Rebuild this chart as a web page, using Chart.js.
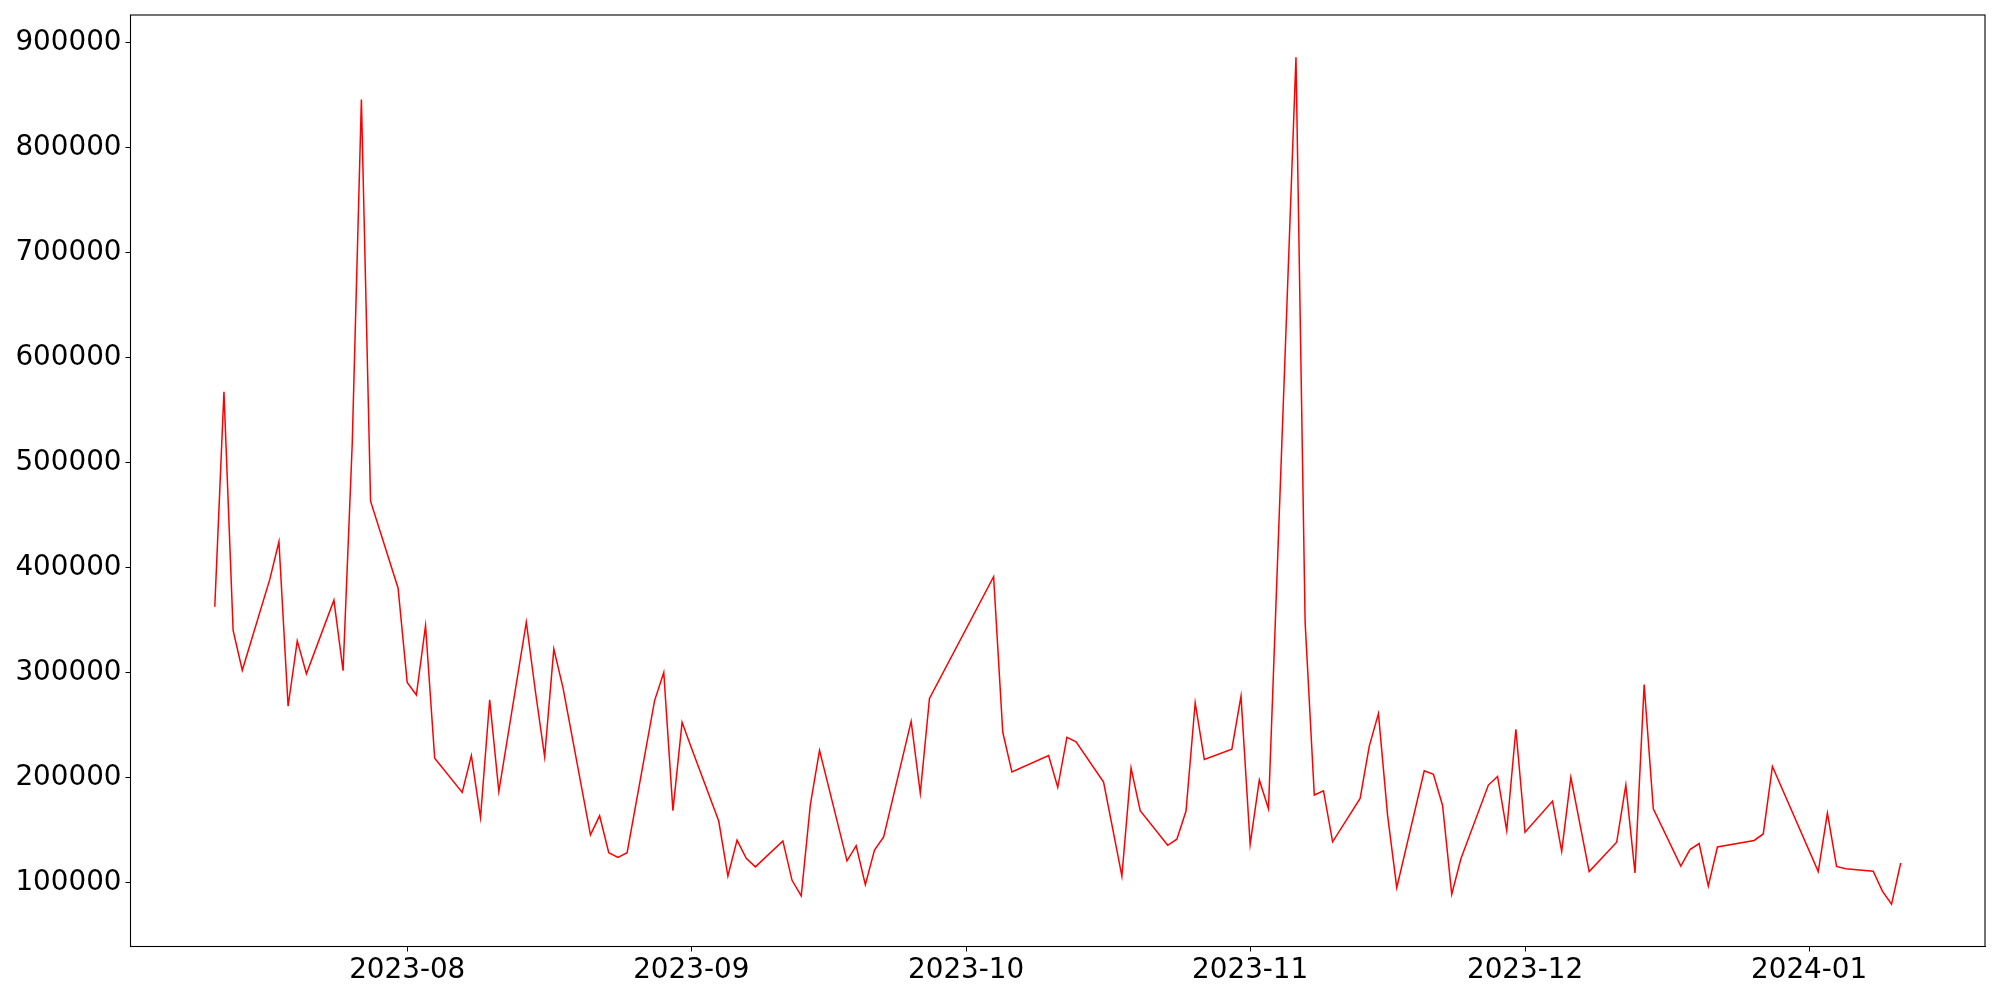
<!DOCTYPE html>
<html>
<head>
<meta charset="utf-8">
<script src="https://cdn.jsdelivr.net/npm/chart.js@4/dist/chart.umd.min.js"></script>
<style>
  html, body { margin: 0; padding: 0; background: #fff; }
  #wrap { width: 2000px; height: 1000px; }
</style>
</head>
<body>
<div id="wrap"><canvas id="chart" width="2000" height="1000"></canvas></div>
<script>
// Daily series, weekdays only (gaps = weekends / closed days)
const dates = [
    "2023-07-11", "2023-07-12", "2023-07-13", "2023-07-14",
    "2023-07-17", "2023-07-18", "2023-07-19", "2023-07-20", "2023-07-21",
    "2023-07-24", "2023-07-25", "2023-07-26", "2023-07-27", "2023-07-28",
    "2023-07-31", "2023-08-01", "2023-08-02", "2023-08-03", "2023-08-04",
    "2023-08-07", "2023-08-08", "2023-08-09", "2023-08-10", "2023-08-11",
    "2023-08-14", "2023-08-15", "2023-08-16", "2023-08-17", "2023-08-18",
    "2023-08-21", "2023-08-22", "2023-08-23", "2023-08-24", "2023-08-25",
    "2023-08-28", "2023-08-29", "2023-08-30", "2023-08-31", "2023-09-01",
    "2023-09-04", "2023-09-05", "2023-09-06", "2023-09-07", "2023-09-08",
    "2023-09-11", "2023-09-12", "2023-09-13", "2023-09-14", "2023-09-15",
    "2023-09-18", "2023-09-19", "2023-09-20", "2023-09-21", "2023-09-22",
    "2023-09-25", "2023-09-26", "2023-09-27",
    "2023-10-04", "2023-10-05", "2023-10-06",
    "2023-10-10", "2023-10-11", "2023-10-12", "2023-10-13",
    "2023-10-16", "2023-10-17", "2023-10-18", "2023-10-19", "2023-10-20",
    "2023-10-23", "2023-10-24", "2023-10-25", "2023-10-26", "2023-10-27",
    "2023-10-30", "2023-10-31", "2023-11-01", "2023-11-02", "2023-11-03",
    "2023-11-06", "2023-11-07", "2023-11-08", "2023-11-09", "2023-11-10",
    "2023-11-13", "2023-11-14", "2023-11-15", "2023-11-16", "2023-11-17",
    "2023-11-20", "2023-11-21", "2023-11-22", "2023-11-23", "2023-11-24",
    "2023-11-27", "2023-11-28", "2023-11-29", "2023-11-30", "2023-12-01",
    "2023-12-04", "2023-12-05", "2023-12-06", "2023-12-07", "2023-12-08",
    "2023-12-11", "2023-12-12", "2023-12-13", "2023-12-14", "2023-12-15",
    "2023-12-18", "2023-12-19", "2023-12-20", "2023-12-21", "2023-12-22",
    "2023-12-26", "2023-12-27", "2023-12-28",
    "2024-01-02", "2024-01-03", "2024-01-04", "2024-01-05",
    "2024-01-08", "2024-01-09", "2024-01-10", "2024-01-11",
];

const values = [
    362800, 567500, 340100, 302200,
    388800, 424700, 267900, 330200, 298900,
    369000, 301800, 518000, 846000, 463300,
    380600, 290600, 278600, 344700, 218400,
    185800, 220900, 161800, 274100, 186600,
    348000, 281500, 219600, 322400, 285700,
    145300, 163500, 128400, 123900, 128400,
    273300, 300100, 168400, 252600, 228700,
    158500, 106100, 140400, 123000, 114800,
    139600, 102000, 87100, 174200, 225800,
    120600, 135000, 97900, 130900, 143300,
    253500, 185000, 275300,
    391300, 243100, 205200,
    221000, 190700, 238200, 234100,
    195700, 151000, 106100, 208900, 168400,
    135400, 141200, 168000, 271200, 217100,
    227000, 277400, 136300, 197700, 170100,
    886300, 347600, 183300, 187400, 138700,
    180000, 229900, 260900, 163900, 95000,
    206400, 203100, 173400, 88800, 122600,
    192800, 201000, 149500, 246000, 147800,
    177500, 129700, 200200, 155000, 110300,
    138300, 192800, 109000, 288500, 170100,
    115600, 131300, 137100, 96600, 133800,
    140000, 146200, 210500,
    110300, 166000, 115200, 113100,
    110700, 91700, 79300, 118500,
];

const monthLabels = ["2023-08", "2023-09", "2023-10", "2023-11", "2023-12", "2024-01"];
const yTicks = [100000, 200000, 300000, 400000, 500000, 600000, 700000, 800000, 900000];

const DAY = 86400000;
const toDay = (s) => Date.parse(s + (s.length === 7 ? "-01" : "") + "T00:00:00Z") / DAY;

const xs = dates.map(toDay);
const monthStarts = monthLabels.map(toDay);

// matplotlib-style 5% margins
const xMinData = Math.min(...xs), xMaxData = Math.max(...xs);
const yMinData = Math.min(...values), yMaxData = Math.max(...values);
const xPad = (xMaxData - xMinData) * 0.05;
const yPad = (yMaxData - yMinData) * 0.05;

const FONT = { family: "'DejaVu Sans', sans-serif", size: 27.8 };

const frame = {
    id: "frame",
    afterDraw(chart) {
        const { ctx, chartArea: a } = chart;
        ctx.save();
        ctx.strokeStyle = "#000";
        ctx.lineWidth = 1.1;
        ctx.strokeRect(a.left, a.top, a.right - a.left, a.bottom - a.top);
        ctx.restore();
    },
};

new Chart(document.getElementById("chart").getContext("2d"), {
    type: "line",
    data: {
        datasets: [
            {
                data: xs.map((x, i) => ({ x, y: values[i] })),
                borderColor: "#ff0000",
                borderWidth: 1.5,
                pointRadius: 0,
                tension: 0,
                fill: false,
            },
        ],
    },
    options: {
        responsive: false,
        animation: false,
        devicePixelRatio: 1,
        layout: { padding: { top: 15, right: 15, left: 0, bottom: 0 } },
        plugins: { legend: { display: false }, tooltip: { enabled: false } },
        scales: {
            x: {
                type: "linear",
                min: xMinData - xPad,
                max: xMaxData + xPad,
                afterBuildTicks: (s) => { s.ticks = monthStarts.map((v) => ({ value: v })); },
                afterFit: (s) => {
                    s.height = 53.5;
                    s.paddingLeft = 0;
                    s.paddingRight = 0;
                },
                ticks: {
                    autoSkip: false,
                    maxRotation: 0,
                    color: "#000",
                    font: FONT,
                    padding: 3,
                    callback: (v) => monthLabels[monthStarts.indexOf(v)] ?? "",
                },
                grid: { drawOnChartArea: false, drawTicks: true, tickLength: 5, tickColor: "#000" },
                border: { display: true, color: "#000" },
            },
            y: {
                type: "linear",
                min: yMinData - yPad,
                max: yMaxData + yPad,
                afterBuildTicks: (s) => { s.ticks = yTicks.map((v) => ({ value: v })); },
                afterFit: (s) => {
                    s.width = 130.5;
                    s.paddingTop = 0;
                    s.paddingBottom = 0;
                },
                ticks: {
                    color: "#000",
                    font: FONT,
                    padding: 4,
                    callback: (v) => String(v),
                },
                grid: { drawOnChartArea: false, drawTicks: true, tickLength: 5, tickColor: "#000" },
                border: { display: true, color: "#000" },
            },
        },
    },
    plugins: [frame],
});
</script>
</body>
</html>
